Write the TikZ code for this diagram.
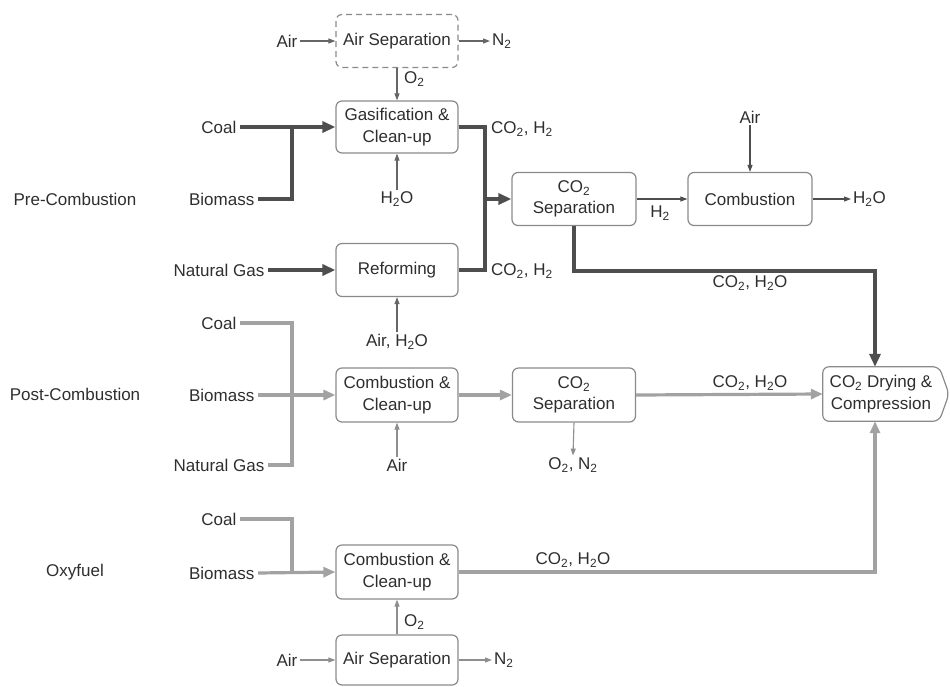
\documentclass[tikz,border=0pt]{standalone}
\usepackage{fontspec}
\setmainfont{Liberation Sans}
\usetikzlibrary{arrows.meta}
\definecolor{txt}{HTML}{2E2E2E}
\definecolor{boxc}{HTML}{8A8A8A}
\definecolor{dkc}{HTML}{4E4E4E}
\definecolor{ltc}{HTML}{A2A2A2}
\definecolor{thc}{HTML}{666666}
\definecolor{thl}{HTML}{8E8E8E}
\tikzset{
  every node/.style={font=\fontsize{17}{21.5}\selectfont, text=txt},
  box/.style={draw=boxc, line width=1.2pt, rounded corners=6pt, minimum width=122pt, minimum height=53pt, align=center, inner sep=2pt},
  dashbox/.style={box, dashed, dash pattern=on 6pt off 4pt},
  lbl/.style={inner sep=2pt, align=center},
  src/.style={inner sep=3.5pt, anchor=east},
  dk/.style={draw=dkc, line width=3.8pt},
  lt/.style={draw=ltc, line width=3.2pt},
  dkar/.style={dk, -{Triangle[length=13pt,width=11pt]}},
  ltar/.style={lt, -{Triangle[length=12pt,width=10pt]}},
  thinar/.style={draw=thc, line width=1.1pt, -{Triangle[length=7pt,width=5pt]}},
  thinlt/.style={draw=thl, line width=1.1pt, -{Triangle[length=7pt,width=5pt]}},
}
\begin{document}
\begin{tikzpicture}[x=1pt,y=-1pt]
\useasboundingbox (0,0) rectangle (950,686);

% row labels
\node[lbl] (rpre) at (75,199) {Pre-Combustion};
\node[lbl] (rpost) at (75,394) {Post-Combustion};
\node[lbl] (roxy) at (75,572) {Oxyfuel};

% ---------- Pre-combustion ----------
\node[dashbox] (as1) at (397,41) {Air Separation};
\node[box, minimum height=52pt] (gas) at (397,127) {Gasification \&\\Clean-up};
\node[box] (ref) at (397,270) {Reforming};
\node[box, minimum width=124pt] (sep1) at (574,199) {CO\textsubscript{2}\\Separation};
\node[box, minimum width=124pt] (comb) at (750,199) {Combustion};

\node[lbl] (air1) at (287,41) {Air};
\node[lbl, anchor=west] (n21) at (490,41) {N\textsubscript{2}};
\node[lbl, anchor=west] (o21) at (402,79) {O\textsubscript{2}};
\draw[thinar] (air1) -- (as1.west);
\draw[thinar] (as1.east) -- (n21.west);
\draw[thinar] (as1.south) -- (gas.north);

\node[src] (coal1) at (240,127) {Coal};
\node[src] (bio1) at (258,199) {Biomass};
\node[src] (ng1) at (268,270) {Natural Gas};
\coordinate (j1) at (292,127);
\draw[dk] (bio1.east) -| (j1);
\draw[dkar] (coal1.east) -- (gas.west);
\draw[dkar] (ng1.east) -- (ref.west);

\node[lbl] (h2o1) at (397,199) {H\textsubscript{2}O};
\draw[thinar] (h2o1.north) -- (gas.south);
\node[lbl] (airh2o) at (397,342) {Air, H\textsubscript{2}O};
\draw[thinar] (airh2o.north) -- (ref.south);

\coordinate (j4) at (485,199);
\draw[dk, line join=miter] (gas.east) -| (j4) |- (ref.east);
\draw[dkar] (j4) -- (sep1.west);
\node[lbl, anchor=west] (ch1) at (489,129) {CO\textsubscript{2}, H\textsubscript{2}};
\node[lbl, anchor=west] (ch2) at (489,271) {CO\textsubscript{2}, H\textsubscript{2}};

\draw[thinar, draw=dkc] (sep1.east) -- (comb.west);
\node[lbl] (h2) at (660,213) {H\textsubscript{2}};
\node[lbl] (air2) at (750,117) {Air};
\draw[thinar, draw=dkc] (air2.south) -- (comb.north);
\node[lbl, anchor=west] (h2o2) at (851,199) {H\textsubscript{2}O};
\draw[thinar, draw=dkc] (comb.east) -- (h2o2.west);

% ---------- CO2 drying ----------
\node[minimum width=116pt, minimum height=54pt, align=center, inner sep=0pt] (dry) at (881,394) {CO\textsubscript{2} Drying \&\\Compression};
\draw[draw=boxc, line width=1.2pt, rounded corners=6pt] (dry.north east) -- (949,394) -- (dry.south east) -- (dry.south west) -- (dry.north west) -- cycle;

\draw[dkar, line join=miter] (sep1.south) -- ++(0,45) -| ([xshift=-6pt]dry.north);
\node[lbl] (chw1) at (750,283) {CO\textsubscript{2}, H\textsubscript{2}O};

% ---------- Post-combustion ----------
\node[box, minimum height=54pt] (ccu2) at (397,395) {Combustion \&\\Clean-up};
\node[box, minimum height=54pt, minimum width=123pt] (sep2) at (574,395) {CO\textsubscript{2}\\Separation};
\node[src] (coal2) at (240,323) {Coal};
\node[src] (bio2) at (258,395) {Biomass};
\node[src] (ng2) at (268,465) {Natural Gas};
\coordinate (j2) at (292,395);
\draw[lt, line join=miter] (coal2.east) -| (j2);
\draw[lt, line join=miter] (ng2.east) -| (j2);
\draw[ltar] (bio2.east) -- (ccu2.west);
\draw[ltar] (ccu2.east) -- (sep2.west);
\draw[ltar] (sep2.east) -- (dry.west);
\node[lbl] (chw2) at (750,383) {CO\textsubscript{2}, H\textsubscript{2}O};
\node[lbl] (air3) at (397,465) {Air};
\draw[thinlt] (air3.north) -- (ccu2.south);
\node[lbl] (o2n2) at (573,465) {O\textsubscript{2}, N\textsubscript{2}};
\draw[thinlt] (sep2.south) -- (o2n2.north);

% ---------- Oxyfuel ----------
\node[box, minimum height=54pt] (ccu3) at (397,572) {Combustion \&\\Clean-up};
\node[box, minimum height=50pt] (as3) at (397,660) {Air Separation};
\node[src] (coal3) at (240,519) {Coal};
\node[src] (bio3) at (258,573) {Biomass};
\coordinate (j3) at (292,573);
\draw[lt, line join=miter] (coal3.east) -| (j3);
\draw[ltar] (bio3.east) -- (ccu3.west);
\draw[ltar, line join=miter] (ccu3.east) -| ([xshift=-6pt]dry.south);
\node[lbl] (chw3) at (573,560) {CO\textsubscript{2}, H\textsubscript{2}O};
\draw[thinlt] (as3.north) -- (ccu3.south);
\node[lbl, anchor=west] (o23) at (402,622) {O\textsubscript{2}};
\node[lbl] (air4) at (287,660) {Air};
\draw[thinlt] (air4) -- (as3.west);
\node[lbl, anchor=west] (n23) at (492,660) {N\textsubscript{2}};
\draw[thinlt] (as3.east) -- (n23.west);
\end{tikzpicture}
\end{document}
